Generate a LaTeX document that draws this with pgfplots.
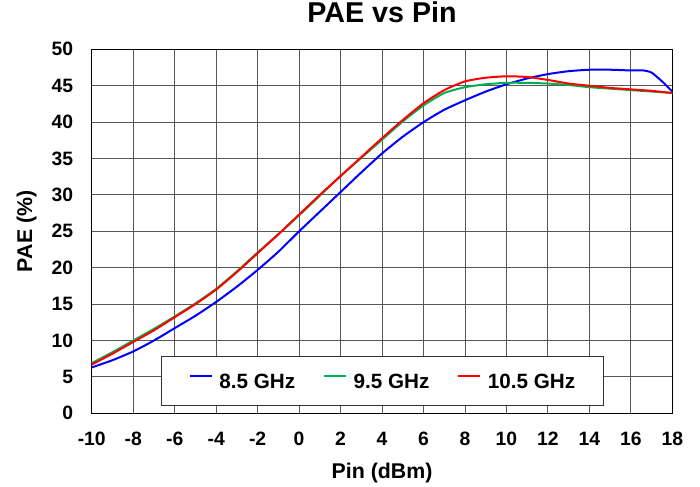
\documentclass[border=0pt]{standalone}
\usepackage{fontspec}
\setmainfont{Liberation Sans}
\usepackage{pgfplots}
\pgfplotsset{compat=1.18}
\definecolor{cblue}{RGB}{0,0,255}
\definecolor{cgreen}{RGB}{0,176,80}
\definecolor{cred}{RGB}{255,0,0}
\begin{document}
\begin{tikzpicture}
\begin{axis}[
  scale only axis,
  width=435.5pt, height=273pt,
  xmin=-10, xmax=18, ymin=0, ymax=50,
  xtick={-10,-8,-6,-4,-2,0,2,4,6,8,10,12,14,16,18},
  xticklabels={-10,-8,-6,-4,-2,0,2,4,6,8,10,12,14,16,18},
  ytick={0,5,10,15,20,25,30,35,40,45,50},
  yticklabels={0,5,10,15,20,25,30,35,40,45,50},
  major tick length=0pt,
  grid=major,
  major grid style={black!66, line width=0.75pt},
  axis line style={black, line width=1.1pt},
  xticklabel style={font=\fontsize{14.5}{14.5}\selectfont\bfseries, anchor=base, yshift=-24.3pt, inner sep=0pt},
  yticklabel style={font=\fontsize{14.5}{14.5}\selectfont\bfseries, anchor=east, xshift=-13.8pt, inner sep=0pt},
  title={PAE vs Pin},
  title style={font=\fontsize{21.5}{21.5}\selectfont\bfseries, at={([yshift=14.5pt]axis description cs:0.5,1)}, anchor=base, inner sep=0pt},
  xlabel={Pin (dBm)},
  xlabel style={font=\fontsize{16}{16}\selectfont\bfseries, at={([yshift=-48.5pt]axis description cs:0.5,0)}, anchor=base, inner sep=0pt},
  ylabel={PAE (\%)},
  ylabel style={font=\fontsize{16}{16}\selectfont\bfseries, at={([xshift=-48.9pt]axis description cs:0,0.5)}, anchor=center, inner sep=0pt},
  legend columns=3,
  legend style={at={(axis cs:4,4.4)}, anchor=center, draw=black!80, line width=0.75pt, fill=white,
    font=\fontsize{15.5}{15.5}\selectfont\bfseries,
    inner xsep=21pt, inner ysep=13pt,
    nodes={inner sep=0pt, text height=11pt, text depth=0pt},
    /tikz/every odd column/.append style={column sep=5pt},
    /tikz/every even column/.append style={column sep=21pt}},
  legend image code/.code={\draw[#1, line width=1.5pt] (0pt,4pt) -- (16.3pt,4pt);},
  every axis plot/.append style={line width=1.5pt, smooth, tension=0.35},
]
\addplot[cblue] coordinates {
(-10,6.3) (-9,7.3) (-8,8.5) (-7,10.0) (-6,11.7) (-5,13.4) (-4,15.3) (-3,17.4) (-2,19.7) (-1,22.2) (0,25.0) (1,27.7) (2,30.4) (3,33.1) (4,35.7) (5,38.0) (6,40.0) (7,41.7) (8,43.0) (9,44.2) (10,45.2) (11,46.0) (12,46.6) (13,47.0) (14,47.2) (15,47.2) (16,47.1) (16.6,47.1) (17,46.8) (17.5,45.6) (18,44.2)
};
\addlegendentry{8.5 GHz}
\addplot[cgreen] coordinates {
(-10,6.9) (-9,8.4) (-8,10.0) (-7,11.6) (-6,13.3) (-5,15.1) (-4,17.1) (-3,19.5) (-2,22.1) (-1,24.6) (0,27.2) (1,29.9) (2,32.6) (3,35.1) (4,37.6) (5,40.1) (6,42.3) (7,44.0) (8,44.8) (9,45.2) (10,45.4) (11,45.4) (12,45.3) (13,45.1) (14,44.8) (15,44.6) (16,44.4) (17,44.2) (18,44.0)
};
\addlegendentry{9.5 GHz}
\addplot[cred] coordinates {
(-10,6.7) (-9,8.2) (-8,9.8) (-7,11.4) (-6,13.2) (-5,15.0) (-4,17.0) (-3,19.4) (-2,22.0) (-1,24.6) (0,27.3) (1,30.0) (2,32.6) (3,35.2) (4,37.8) (5,40.3) (6,42.6) (7,44.4) (8,45.6) (9,46.1) (10,46.3) (11,46.2) (12,45.8) (13,45.3) (14,45.0) (15,44.7) (16,44.5) (17,44.3) (18,44.0)
};
\addlegendentry{10.5 GHz}
\coordinate (O) at (rel axis cs:0,0);
\end{axis}
\pgfresetboundingbox
\useasboundingbox ([xshift=-68.8pt,yshift=-54.5pt]O) rectangle ++(525pt,364.5pt);
\end{tikzpicture}
\end{document}
